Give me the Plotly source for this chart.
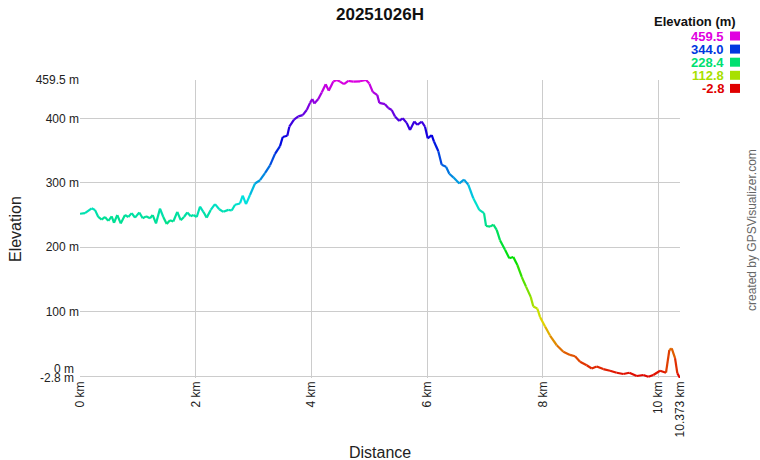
import colorsys
import plotly.graph_objects as go

# profile: distance (km) and elevation (m)
dist_km = [
    0.000, 0.086, 0.202, 0.259, 0.316, 0.375, 0.432, 0.489, 0.548, 0.588,
    0.645, 0.704, 0.778, 0.835, 0.894, 0.951, 1.025, 1.084, 1.141, 1.210,
    1.257, 1.314, 1.383, 1.440, 1.499, 1.556, 1.613, 1.682, 1.741, 1.798,
    1.855, 1.914, 1.959, 2.018, 2.075, 2.132, 2.190, 2.260, 2.334, 2.408,
    2.478, 2.564, 2.623, 2.680, 2.766, 2.813, 2.870, 2.939, 3.026, 3.112,
    3.198, 3.285, 3.371, 3.458, 3.505, 3.584, 3.619, 3.700, 3.774, 3.850,
    3.920, 3.977, 4.016, 4.051, 4.120, 4.179, 4.248, 4.300, 4.379, 4.438,
    4.495, 4.564, 4.639, 4.725, 4.841, 4.945, 5.002, 5.061, 5.140, 5.175,
    5.273, 5.330, 5.389, 5.446, 5.520, 5.579, 5.648, 5.705, 5.780, 5.831,
    5.908, 5.965, 6.011, 6.081, 6.120, 6.195, 6.253, 6.328, 6.385, 6.454,
    6.558, 6.639, 6.713, 6.800, 6.904, 6.985, 7.020, 7.089, 7.146, 7.204,
    7.261, 7.348, 7.422, 7.491, 7.561, 7.637, 7.711, 7.792, 7.837, 7.906,
    7.953, 8.040, 8.126, 8.242, 8.356, 8.472, 8.558, 8.645, 8.760, 8.847,
    8.933, 9.047, 9.163, 9.279, 9.393, 9.497, 9.625, 9.739, 9.826, 9.912,
    10.028, 10.131, 10.189, 10.230, 10.287, 10.327, 10.373,
]
elev_m = [
    252, 253, 260.5, 258, 247, 243, 247, 241, 248, 238,
    250, 237, 250, 247, 253, 246, 254, 245, 248, 245,
    250, 237, 260, 247, 236, 242, 240, 255, 242, 247,
    254, 248, 250, 247, 263, 255, 246, 258, 267, 259,
    255, 258, 257, 266, 268, 280, 267, 281, 299, 304,
    315, 327, 345, 357, 371, 373, 387, 398, 403, 405,
    413, 424, 430, 423, 430, 440, 453, 443, 457, 459.5,
    457, 453, 458, 457, 457.5, 459.5, 454, 441, 436, 424,
    422, 416, 413, 403, 396, 400, 393, 382, 395, 390,
    395, 387, 369, 374, 364, 349, 328, 325, 314, 308.5,
    299, 305, 297, 276, 258, 253, 233, 232, 235, 227,
    211, 196, 183, 185, 172.5, 154, 139, 123, 108, 105,
    92, 77, 63, 48, 38, 33, 31, 22.5, 17, 12,
    15, 11, 8.5, 5.4, 3.4, 5.4, 0.3, 1.9, -0.8, 1.9,
    8.5, 5.4, 40.6, 43, 28, 4.5, -2.8,
]

title_text = "20251026H"
y_min = -2.8
y_max = 459.5
y_ticks = [-2.8, 0, 100, 200, 300, 400, 459.5]
y_ticktext = ["", "", "100 m", "200 m", "300 m", "400 m", "459.5 m"]
x_ticks = [0, 2, 4, 6, 8, 10, 10.373]
x_ticktext = ["0 km", "2 km", "4 km", "6 km", "8 km", "10 km", "10.373 km"]
legend_vals = [459.5, 344.0, 228.4, 112.8, -2.8]

FONT = "Arial, Liberation Sans, sans-serif"

W, H = 760, 460
# plot area in page pixels: x 80..680, y 80..378
L, R, T, B = 80, 680, 80, 378


def px(x):
    return (x - L) / (R - L)


def py(y):
    return (B - y) / (B - T)


def elev_color(e):
    t = (e - y_min) / (y_max - y_min)
    r, g, b = colorsys.hsv_to_rgb(300 / 360 * t, 1.0, 0.88)
    return "rgb(%d,%d,%d)" % (r * 255, g * 255, b * 255)


def label(text, x, y, size=12, color="#222", xanchor="center", angle=0):
    return dict(text=text, x=px(x), y=py(y), xref="paper", yref="paper",
                xanchor=xanchor, yanchor="middle", textangle=angle,
                showarrow=False, font=dict(size=size, color=color))


fig = go.Figure()

# elevation line, coloured segment by segment
for i in range(len(dist_km) - 1):
    fig.add_trace(
        go.Scatter(
            x=dist_km[i:i + 2],
            y=elev_m[i:i + 2],
            mode="lines",
            line=dict(color=elev_color((elev_m[i] + elev_m[i + 1]) / 2), width=2.2),
            showlegend=False,
            hoverinfo="skip"
        )
    )

annotations = [
    label("<b>" + title_text + "</b>", 380, 14, size=17, color="#111"),
    label("Elevation", 15, 229, size=16, angle=-90),
    label("Distance", 380, 452, size=16),
    label("created by GPSVisualizer.com", 752, 230, color="#666", angle=-90),
    label("<b>Elevation (m)</b>", 738, 22, size=13, color="#111", xanchor="right"),
    # the two bottom labels are nudged apart, as in the original
    label("0 m", 76, 369, xanchor="right"),
    label("-2.8 m", 76, 378, xanchor="right"),
]

shapes = []
for k, v in enumerate(legend_vals):
    yc = 36 + k * 13.1
    annotations.append(
        label("<b>%.1f</b>" % v, 726, yc, size=13, color=elev_color(v),
              xanchor="right")
    )
    shapes.append(
        dict(type="rect", xref="paper", yref="paper",
             x0=px(730), x1=px(740), y0=py(yc + 4.5), y1=py(yc - 4.5),
             fillcolor=elev_color(v), line=dict(width=0))
    )

fig.update_layout(
    width=W,
    height=H,
    margin=dict(l=L, r=W - R, t=T, b=H - B),
    plot_bgcolor="white",
    paper_bgcolor="white",
    font=dict(family=FONT, size=12, color="#222"),
    annotations=annotations,
    shapes=shapes,
    showlegend=False
)

fig.update_xaxes(
    range=[0, 10.373],
    tickvals=x_ticks,
    ticktext=x_ticktext,
    tickangle=-90,
    showgrid=True,
    gridcolor="#cccccc",
    zeroline=False,
    showline=False,
    ticks="",
    tickfont=dict(size=12, color="#222")
)

fig.update_yaxes(
    range=[y_min, y_max],
    tickvals=y_ticks,
    ticktext=y_ticktext,
    showgrid=True,
    gridcolor="#cccccc",
    zeroline=False,
    showline=False,
    ticks="",
    tickfont=dict(size=12, color="#222")
)

# drop the page margin so the 760x460 figure sits at the window corner
fig.write_html(
    "out.html",
    config={"displayModeBar": False},
    post_script="document.body.style.margin='0';"
                "document.documentElement.style.overflow='hidden';"
)
